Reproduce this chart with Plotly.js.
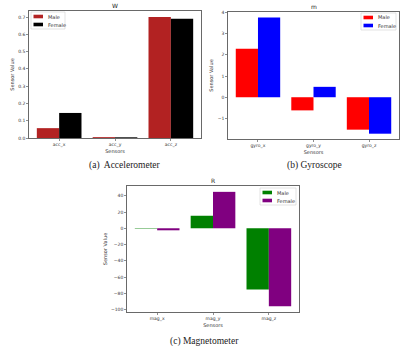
<!DOCTYPE html>
<html>
<head>
<meta charset="utf-8">
<script src="https://cdn.plot.ly/plotly-3.0.1.min.js"></script>
<style>
  body { margin: 0; background: #fff; }
  #chart { width: 411px; height: 346px; }
</style>
</head>
<body>
<div id="chart"></div>
<script>
// series names
const seriesNames = ["Male", "Female"];

// (a) accelerometer
const accSensors = ["acc_x", "acc_y", "acc_z"];
const accMale = [0.057, 0.005, 0.700];
const accFemale = [0.145, 0.004, 0.690];

// (b) gyroscope
const gyroSensors = ["gyro_x", "gyro_y", "gyro_z"];
const gyroMale = [2.29, -0.62, -1.53];
const gyroFemale = [3.76, 0.49, -1.72];

// (c) magnetometer
const magSensors = ["mag_x", "mag_y", "mag_z"];
const magMale = [-0.5, 15.4, -75.2];
const magFemale = [-2.5, 44.8, -96.0];

const W = 411, H = 346;
const px = x => x / W;
const py = y => 1 - y / H;

const tickFont = { family: "DejaVu Sans", size: 4.5, color: "#333" };
const labelFont = { family: "DejaVu Sans", size: 5, color: "#333" };

function bars(xs, male, female, colors, xa, ya) {
    return [
        { type: "bar", x: xs, y: male, name: seriesNames[0], xaxis: xa, yaxis: ya,
          offset: -0.4, width: 0.4, marker: { color: colors[0] }, showlegend: false },
        { type: "bar", x: xs, y: female, name: seriesNames[1], xaxis: xa, yaxis: ya,
          offset: 0, width: 0.4, marker: { color: colors[1] }, showlegend: false }
    ];
}

function xAxis(domain, anchor) {
    return {
        domain: domain, anchor: anchor, type: "category", range: [-0.54, 2.54],
        showline: true, mirror: true, linecolor: "#444", linewidth: 0.8,
        ticks: "outside", ticklen: 2, tickwidth: 0.6, tickcolor: "#444",
        showgrid: false, zeroline: false, tickfont: tickFont,
        title: { text: "Sensors", font: labelFont, standoff: 1 }
    };
}

function yAxis(domain, anchor, range, dtick, fmt) {
    return {
        domain: domain, anchor: anchor, range: range, dtick: dtick, tickformat: fmt,
        showline: true, mirror: true, linecolor: "#444", linewidth: 0.8,
        ticks: "outside", ticklen: 2, tickwidth: 0.6, tickcolor: "#444",
        showgrid: false, zeroline: false, tickfont: tickFont,
        title: { text: "Sensor Value", font: labelFont, standoff: 3 }
    };
}

const data = [
    ...bars(accSensors, accMale, accFemale, ["#b22222", "#000000"], "x", "y"),
    ...bars(gyroSensors, gyroMale, gyroFemale, ["#ff0000", "#0000ff"], "x2", "y2"),
    ...bars(magSensors, magMale, magFemale, ["#008000", "#800080"], "x3", "y3")
];

// small hand-drawn legends, matplotlib style
const shapes = [];
const annotations = [];
function legend(left, top, w, colors) {
    shapes.push({ type: "rect", xref: "paper", yref: "paper",
        x0: px(left), x1: px(left + w), y0: py(top + 17), y1: py(top),
        line: { color: "#d0d0d0", width: 0.6 }, fillcolor: "rgba(255,255,255,0.8)" });
    for (let i = 0; i < 2; i++) {
        const cy = top + 4.5 + i * 8;
        shapes.push({ type: "rect", xref: "paper", yref: "paper",
            x0: px(left + 2.5), x1: px(left + 12), y0: py(cy + 1.8), y1: py(cy - 1.8),
            line: { width: 0 }, fillcolor: colors[i] });
        annotations.push({ xref: "paper", yref: "paper", x: px(left + 15), y: py(cy),
            xanchor: "left", yanchor: "middle", showarrow: false,
            text: seriesNames[i], font: labelFont });
    }
}
legend(31, 12, 34, ["#b22222", "#000000"]);
legend(361, 13, 35, ["#ff0000", "#0000ff"]);
legend(260, 188, 36, ["#008000", "#800080"]);

function title(text, x, y) {
    annotations.push({ xref: "paper", yref: "paper", x: px(x), y: py(y),
        xanchor: "center", yanchor: "middle", showarrow: false, text: text,
        font: { family: "DejaVu Sans", size: 6, color: "#222" } });
}
title("W", 115, 5.5);
title("m", 313.5, 6);
title("R", 213, 180.5);

function caption(text, x, y) {
    annotations.push({ xref: "paper", yref: "paper", x: px(x), y: py(y),
        xanchor: "center", yanchor: "middle", showarrow: false, text: text,
        font: { family: "Liberation Serif", size: 9.5, color: "#222" } });
}
caption("(a)  Accelerometer", 125, 166);
caption("(b) Gyroscope", 314, 166);
caption("(c) Magnetometer", 204, 341);

const layout = {
    width: W, height: H,
    margin: { l: 0, r: 0, t: 0, b: 0 },
    paper_bgcolor: "#fff", plot_bgcolor: "#fff",
    barmode: "overlay",
    showlegend: false,
    xaxis: xAxis([px(29), px(201)], "y"),
    yaxis: yAxis([py(138), py(11)], "x", [0, 0.735], 0.1, ".1f"),
    xaxis2: xAxis([px(228), px(399)], "y2"),
    yaxis2: yAxis([py(139), py(12)], "x2", [-1.97, 4.02], 1, "d"),
    xaxis3: xAxis([px(127), px(299)], "y3"),
    yaxis3: yAxis([py(312), py(186)], "x3", [-103, 52], 20, "d"),
    shapes: shapes,
    annotations: annotations
};

Plotly.newPlot("chart", data, layout, { displayModeBar: false, staticPlot: true });
</script>
</body>
</html>
